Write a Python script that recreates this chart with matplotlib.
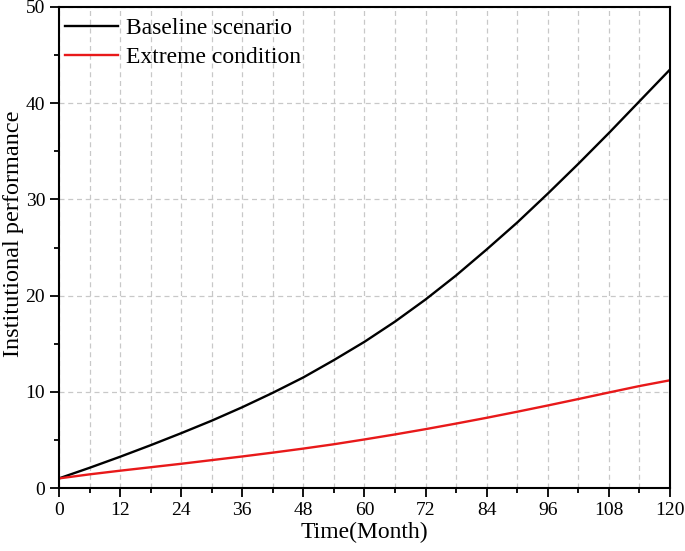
import matplotlib
matplotlib.use("Agg")
import matplotlib.pyplot as plt
from matplotlib.ticker import MultipleLocator

plt.rcParams["font.family"] = ["Liberation Serif", "DejaVu Serif"]

# Data
months = [0, 6, 12, 18, 24, 30, 36, 42, 48, 54, 60, 66, 72, 78, 84, 90, 96, 102, 108, 114, 120]
baseline = [1.0, 2.1, 3.25, 4.45, 5.7, 7.0, 8.4, 9.9, 11.5, 13.3, 15.2, 17.3, 19.6, 22.1,
            24.8, 27.6, 30.6, 33.7, 36.9, 40.2, 43.5]
extreme = [1.0, 1.42, 1.8, 2.16, 2.52, 2.9, 3.28, 3.68, 4.1, 4.55, 5.05, 5.57, 6.12, 6.7,
           7.3, 7.93, 8.58, 9.25, 9.93, 10.6, 11.2]

fig = plt.figure(figsize=(6.85, 5.51), dpi=100)
ax = fig.add_axes([0.0861, 0.1143, 0.892, 0.873])

ax.plot(months, baseline, color="black", lw=1.7, label="Baseline scenario")
ax.plot(months, extreme, color="#e8191a", lw=1.7, label="Extreme condition")

ax.set_xlim(0, 120)
ax.set_ylim(0, 50)
ax.xaxis.set_major_locator(MultipleLocator(12))
ax.xaxis.set_minor_locator(MultipleLocator(6))
ax.yaxis.set_major_locator(MultipleLocator(10))
ax.yaxis.set_minor_locator(MultipleLocator(5))

ax.grid(which="both", axis="x", color="#c8c8c8", ls=(0, (4, 3)), lw=0.9)
ax.grid(which="major", axis="y", color="#c8c8c8", ls=(0, (4, 3)), lw=0.9)
ax.set_axisbelow(True)

for s in ax.spines.values():
    s.set_linewidth(1.5)
ax.tick_params(which="major", direction="out", length=6.5, width=1.3, labelsize=14,
               top=False, right=False)
ax.tick_params(which="minor", direction="out", length=3.5, width=1.3,
               top=False, right=False)

ax.set_xlabel("Time(Month)", fontsize=17, labelpad=2)
ax.set_ylabel("Institutional performance", fontsize=17.5)
ax.yaxis.set_label_coords(-0.058, 0.529)

ax.legend(loc="upper left", bbox_to_anchor=(0, 0.99), frameon=False, fontsize=17,
          handlelength=2.25, handletextpad=0.35, borderpad=0.0, borderaxespad=0.25,
          labelspacing=0.3)

fig.savefig("out.png", dpi=100)
